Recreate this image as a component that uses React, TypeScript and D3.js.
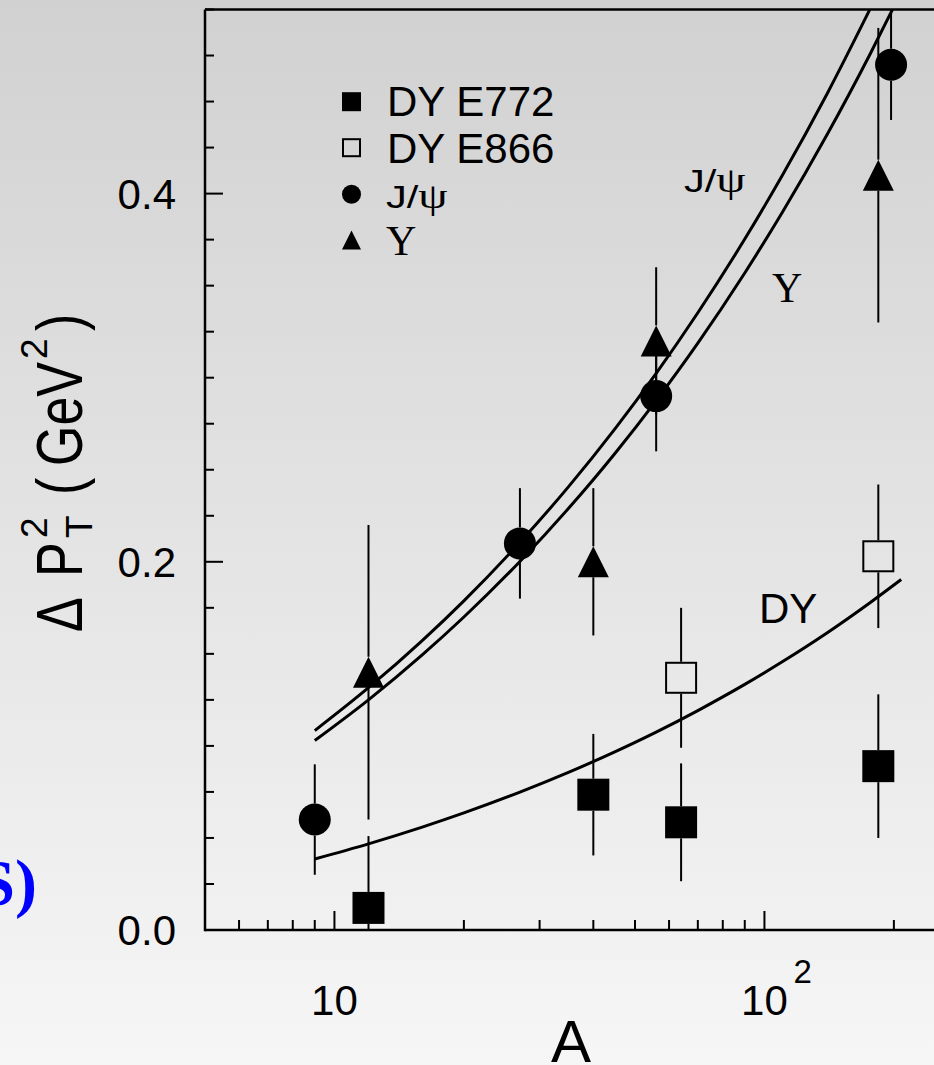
import React from 'react';
import * as d3 from 'd3';

const W = 934;
const H = 1065;

// ---- data ----
const dyE772A = [12, 40, 64, 184];
const dyE772V = [0.012, 0.0735, 0.0585, 0.089];
const dyE772Err = [0.039, 0.033, 0.032, 0.039];

const dyE866A = [64, 184];
const dyE866V = [0.137, 0.203];
const dyE866Err = [0.038, 0.039];

const jpsiA = [9, 27, 56, 197];
const jpsiV = [0.06, 0.21, 0.29, 0.47];
const jpsiErr = [0.03, 0.03, 0.03, 0.03];

const upsA = [12, 40, 56, 184];
const upsV = [0.14, 0.2, 0.32, 0.41];
const upsErr = [0.08, 0.04, 0.04, 0.08];

const jpsiCurveA = [9, 12, 16, 20, 27, 35, 45, 56, 70, 90, 110, 140, 176];
const jpsiCurveV = [0.1083, 0.1316, 0.1572, 0.1788, 0.2106, 0.2407, 0.2725, 0.3024, 0.3353, 0.3753, 0.4098, 0.4544, 0.5002];

const upsCurveA = [9, 12, 16, 20, 27, 35, 45, 56, 70, 90, 110, 140, 176, 199];
const upsCurveV = [0.1029, 0.125, 0.1494, 0.17, 0.2002, 0.2289, 0.2591, 0.2876, 0.3188, 0.3569, 0.3897, 0.4322, 0.4757, 0.5005];

const dyCurveA = [9, 12, 16, 20, 27, 35, 45, 56, 70, 90, 110, 140, 176, 208];
const dyCurveV = [0.0386, 0.0468, 0.0559, 0.0636, 0.0749, 0.0856, 0.0969, 0.1075, 0.1192, 0.1334, 0.1457, 0.1615, 0.1778, 0.1904];

const xMajorTicks = [10, 100];
const xMinorTicks = [6, 7, 8, 9, 20, 30, 40, 50, 60, 70, 80, 90, 200];
const yMajorTicks = [0, 0.2, 0.4];
const yTickLabels = ['0.0', '0.2', '0.4'];
const yMinorStep = 0.025;

const legendLabels = ['DY E772', 'DY E866', 'J/ψ', 'Υ'];

const SANS = '"Liberation Sans", Arial, Helvetica, sans-serif';
const SERIF = '"Liberation Serif", "Times New Roman", serif';

// ---- layout ----
const left = 205;
const top = 9.5;
const bottom = 930;
const decade = 430;
const right = left + decade * Math.log10(250 / 5);

const x = d3.scaleLog().domain([5, 250]).range([left, right]);
const y = d3.scaleLinear().domain([0, 0.5]).range([bottom, top]);

const yMinorTicks = d3.range(0, 0.5 + 1e-9, yMinorStep).filter(
  (v) => !yMajorTicks.some((m) => Math.abs(m - v) < 1e-9)
);

const line = d3
  .line<[number, number]>()
  .x((d) => x(d[0]))
  .y((d) => y(d[1]))
  .curve(d3.curveMonotoneX);

type Kind = 'fsq' | 'osq' | 'circ' | 'tri';

function Marker({ kind, cx, cy, s }: { kind: Kind; cx: number; cy: number; s: number }) {
  const h = s / 2;
  if (kind === 'fsq') return <rect x={cx - h} y={cy - h} width={s} height={s} fill="#000" />;
  if (kind === 'osq')
    return <rect x={cx - h + 1} y={cy - h + 1} width={s - 2} height={s - 2} fill="none" stroke="#000" strokeWidth={2} />;
  if (kind === 'circ') return <circle cx={cx} cy={cy} r={h} fill="#000" />;
  return <path d={`M${cx},${cy - h}L${cx + h},${cy + h}L${cx - h},${cy + h}Z`} fill="#000" />;
}

function Series({ A, V, E, kind, s }: { A: number[]; V: number[]; E: number[]; kind: Kind; s: number }) {
  return (
    <g>
      {A.map((a, i) => {
        const cx = x(a);
        const cy = y(V[i]);
        const yt = y(Math.min(0.5, V[i] + E[i]));
        const yb = y(Math.max(0, V[i] - E[i]));
        const h = s / 2;
        return (
          <g key={i}>
            <line x1={cx} x2={cx} y1={yt} y2={cy - h} stroke="#000" strokeWidth={2} />
            <line x1={cx} x2={cx} y1={cy + h} y2={yb} stroke="#000" strokeWidth={2} />
            <Marker kind={kind} cx={cx} cy={cy} s={s} />
          </g>
        );
      })}
    </g>
  );
}

function zip(a: number[], b: number[]): [number, number][] {
  return a.map((v, i) => [v, b[i]] as [number, number]);
}

function JPsi({ tx, ty }: { tx: number; ty: number }) {
  return (
    <text transform={`translate(${tx},${ty}) scale(1.3,1)`} fontFamily={SANS} fontSize={32} fill="#000">
      J/<tspan fontFamily={SERIF} fontSize={36}>ψ</tspan>
    </text>
  );
}

export default function App() {
  const legendKinds: Kind[] = ['fsq', 'osq', 'circ', 'tri'];
  const legendBase = [116, 162.7, 208.3, 255];
  const legendMarkerY = [101.7, 147.7, 194.3, 240];

  return (
    <svg
      width={W}
      height={H}
      viewBox={`0 0 ${W} ${H}`}
      style={{ position: 'absolute', left: 0, top: 0, display: 'block' }}
    >
      <defs>
        <linearGradient id="bg" x1="0" y1="0" x2="0" y2="1">
          <stop offset="0" stopColor="#d1d1d1" />
          <stop offset="1" stopColor="#f6f6f6" />
        </linearGradient>
        <clipPath id="plot">
          <rect x={left} y={top} width={right - left} height={bottom - top} />
        </clipPath>
      </defs>
      <rect x={0} y={0} width={W} height={H} fill="url(#bg)" />

      {/* cropped blue text at left */}
      <text x={37} y={905} textAnchor="end" fontFamily={SERIF} fontWeight="bold" fontSize={66} fill="#0000ff">
        S)
      </text>

      {/* frame */}
      <line x1={left} x2={W + 5} y1={top} y2={top} stroke="#000" strokeWidth={2.5} />
      <line x1={left} x2={W + 5} y1={bottom} y2={bottom} stroke="#000" strokeWidth={2.5} />
      <line x1={left} x2={left} y1={top} y2={bottom + 1.2} stroke="#000" strokeWidth={2.5} />

      {/* y ticks */}
      {yMajorTicks.map((v) => (
        <line key={'ym' + v} x1={left} x2={left + 18} y1={y(v)} y2={y(v)} stroke="#000" strokeWidth={2} />
      ))}
      {yMinorTicks.map((v) => (
        <line key={'yn' + v} x1={left} x2={left + 9} y1={y(v)} y2={y(v)} stroke="#000" strokeWidth={2} />
      ))}
      {yMajorTicks.map((v, i) => (
        <text key={'yl' + v} x={176} y={y(v)} dy="0.36em" textAnchor="end" fontFamily={SANS} fontSize={42} fill="#000">
          {yTickLabels[i]}
        </text>
      ))}

      {/* x ticks */}
      {xMajorTicks.map((v) => (
        <line key={'xm' + v} x1={x(v)} x2={x(v)} y1={bottom} y2={bottom - 19} stroke="#000" strokeWidth={2} />
      ))}
      {xMinorTicks.map((v) => (
        <line key={'xn' + v} x1={x(v)} x2={x(v)} y1={bottom} y2={bottom - 10} stroke="#000" strokeWidth={2} />
      ))}
      <text x={x(10)} y={1015} textAnchor="middle" fontFamily={SANS} fontSize={42} fill="#000">
        10
      </text>
      <text x={x(100)} y={1015} textAnchor="middle" fontFamily={SANS} fontSize={42} fill="#000">
        10
      </text>
      <text x={x(100) + 29} y={983} fontFamily={SANS} fontSize={33} fill="#000">
        2
      </text>
      <text x={571} y={1062} textAnchor="middle" fontFamily={SANS} fontSize={60} fill="#000">
        A
      </text>

      {/* y axis title */}
      <g transform="translate(81.7,469) rotate(-90)" fontFamily={SANS} fill="#000">
        <text transform="translate(-163,0) scale(0.8,1)" fontSize={65}>Δ</text>
        <text transform="translate(-108,0) scale(0.8,1)" fontSize={65}>P</text>
        <text x={-69} y={-35} fontSize={37}>2</text>
        <text x={-69} y={10} fontSize={37}>T</text>
        <text transform="translate(-26,0) scale(0.8,1)" fontSize={65}>(</text>
        <text transform="translate(3,0) scale(0.8,1)" fontSize={65}>GeV</text>
        <text x={110} y={-35} fontSize={37}>2</text>
        <text transform="translate(138,0) scale(0.8,1)" fontSize={65}>)</text>
      </g>

      {/* curves */}
      <g clipPath="url(#plot)" fill="none" stroke="#000" strokeWidth={3}>
        <path d={line(zip(jpsiCurveA, jpsiCurveV)) || ''} />
        <path d={line(zip(upsCurveA, upsCurveV)) || ''} />
        <path d={line(zip(dyCurveA, dyCurveV)) || ''} />
      </g>

      {/* curve labels */}
      <JPsi tx={684} ty={191.7} />
      <text x={772} y={301.7} fontFamily={SERIF} fontSize={42} fill="#000">
        Υ
      </text>
      <text x={759} y={623} fontFamily={SANS} fontSize={42} fill="#000">
        DY
      </text>

      {/* data */}
      <Series A={dyE772A} V={dyE772V} E={dyE772Err} kind="fsq" s={32} />
      <Series A={dyE866A} V={dyE866V} E={dyE866Err} kind="osq" s={32} />
      <Series A={jpsiA} V={jpsiV} E={jpsiErr} kind="circ" s={32} />
      <Series A={upsA} V={upsV} E={upsErr} kind="tri" s={31} />

      {/* legend */}
      {legendKinds.map((k, i) => (
        <g key={'lg' + i}>
          <Marker kind={k} cx={351.5} cy={legendMarkerY[i]} s={19} />
          {i < 2 && (
            <text x={387} y={legendBase[i]} fontFamily={SANS} fontSize={42} fill="#000">
              {legendLabels[i]}
            </text>
          )}
          {i === 2 && <JPsi tx={386} ty={legendBase[i]} />}
          {i === 3 && (
            <text x={386} y={legendBase[i]} fontFamily={SERIF} fontSize={42} fill="#000">
              {legendLabels[3]}
            </text>
          )}
        </g>
      ))}
    </svg>
  );
}
